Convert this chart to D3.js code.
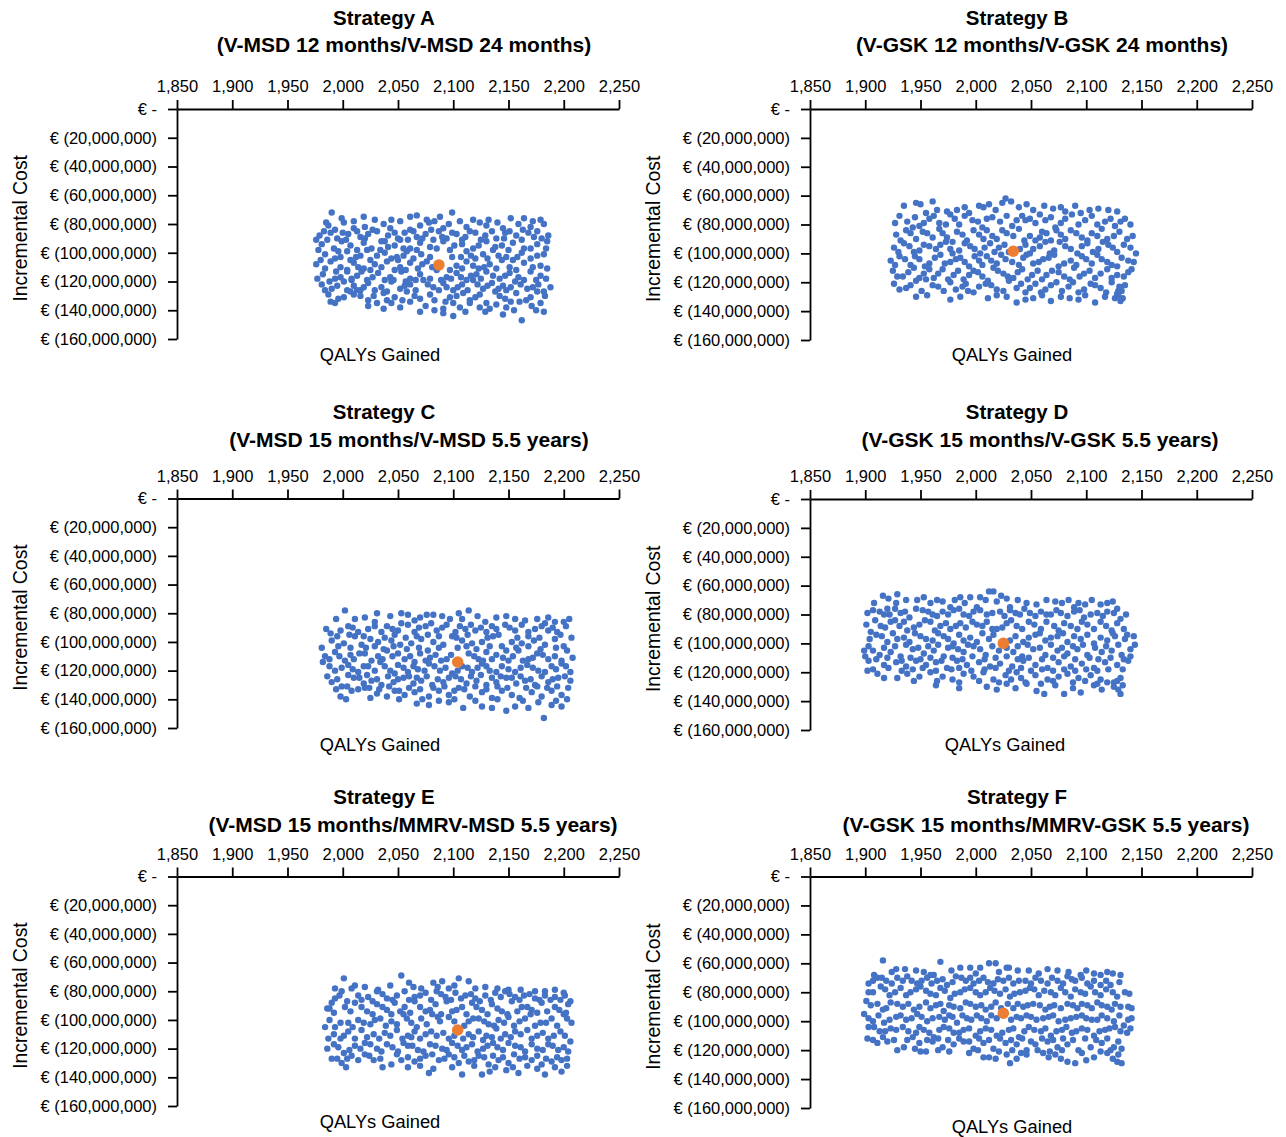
<!DOCTYPE html>
<html>
<head>
<meta charset="utf-8">
<script src="https://cdn.jsdelivr.net/npm/d3@7"></script>
<style>
  body { margin: 0; background: #fff; }
  svg text { font-family: "Liberation Sans", Arial, sans-serif; fill: #000; }
</style>
</head>
<body>
<svg id="chart" width="1286" height="1137"></svg>
<script>
// TICKS
const xTicks = [1850, 1900, 1950, 2000, 2050, 2100, 2150, 2200, 2250]
const yTicks = [0, -20, -40, -60, -80, -100, -120, -140, -160] // € millions

const titles = ["Strategy A", "Strategy B", "Strategy C", "Strategy D", "Strategy E", "Strategy F"]
const subtitles = [
  "(V-MSD 12 months/V-MSD 24 months)",
  "(V-GSK 12 months/V-GSK 24 months)",
  "(V-MSD 15 months/V-MSD 5.5 years)",
  "(V-GSK 15 months/V-GSK 5.5 years)",
  "(V-MSD 15 months/MMRV-MSD 5.5 years)",
  "(V-GSK 15 months/MMRV-GSK 5.5 years)",
]

// base case (orange) [QALYs, cost € millions]
const baseA = [2087, -108.5]
const baseB = [2034, -98.5]
const baseC = [2104, -114]
const baseD = [2025, -100]
const baseE = [2104, -107]
const baseF = [2025, -94.5]

// PSA simulations [QALYs gained, incremental cost € millions]
const pointsA = [
[1990,-72],[2019,-75],[1999,-76],[2061,-75],[2067,-74],[2076,-77],[2088,-75],[2099,-72],[2132,-77],[2044,-77],[2179,-77],[2164,-76],
[1987,-81],[2001,-79],[2020,-82],[2037,-80],[2043,-83],[2052,-78],[2070,-81],[2078,-79],[2091,-83],[2096,-80],[2112,-82],[2124,-79],[2130,-81],[2145,-83],[2159,-80],[2170,-82],[2182,-80],[1993,-84],[2010,-83],[2061,-84],[2106,-78],
[1979,-88],[1989,-86],[1995,-90],[2005,-87],[2016,-89],[2031,-85],[2041,-88],[2050,-90],[2056,-86],[2067,-89],[2075,-87],[2087,-85],[2094,-90],[2103,-87],[2111,-89],[2120,-86],[2129,-88],[2139,-90],[2151,-85],[2157,-88],[2168,-86],[2180,-90],[1976,-91],[2023,-87],[2082,-91],
[1981,-94],[1992,-97],[1999,-92],[2007,-95],[2019,-93],[2026,-97],[2035,-92],[2047,-95],[2061,-97],[2070,-93],[2079,-96],[2091,-92],[2097,-98],[2108,-94],[2118,-97],[2130,-92],[2144,-95],[2154,-93],[2164,-97],[2176,-94],[2185,-92],[2013,-98],[2052,-91],
[1984,-101],[1993,-104],[2004,-99],[2016,-102],[2025,-105],[2038,-100],[2049,-103],[2058,-99],[2064,-104],[2071,-101],[2099,-103],[2112,-99],[2120,-104],[2127,-101],[2136,-98],[2148,-103],[2162,-100],[2170,-104],[2182,-101],[2007,-105],[2034,-98],[2154,-105],
[1976,-108],[1989,-106],[1998,-110],[2010,-107],[2019,-111],[2029,-108],[2040,-106],[2052,-110],[2061,-107],[2068,-111],[2076,-106],[2103,-109],[2112,-106],[2123,-111],[2133,-108],[2144,-105],[2151,-110],[2164,-107],[2179,-109],[2004,-112],[2097,-112],[2050,-105],
[1982,-115],[1993,-118],[2004,-113],[2013,-116],[2022,-119],[2032,-114],[2043,-117],[2053,-113],[2061,-118],[2070,-115],[2085,-112],[2094,-117],[2103,-114],[2112,-119],[2121,-115],[2130,-113],[2142,-118],[2151,-114],[2159,-117],[2170,-113],[2179,-116],[2017,-113],[2046,-119],
[1981,-122],[1990,-125],[2001,-120],[2010,-123],[2016,-126],[2023,-121],[2035,-124],[2044,-120],[2052,-125],[2061,-122],[2073,-119],[2082,-124],[2091,-121],[2100,-126],[2108,-122],[2118,-119],[2127,-125],[2135,-121],[2145,-123],[2156,-120],[2167,-125],[2177,-122],[2188,-124],[2008,-119],[2148,-126],
[1987,-129],[1996,-132],[2007,-127],[2016,-130],[2023,-133],[2037,-128],[2047,-131],[2058,-127],[2070,-132],[2079,-129],[2087,-126],[2097,-131],[2109,-128],[2115,-133],[2124,-129],[2138,-127],[2147,-132],[2157,-128],[2170,-131],[2176,-127],[2040,-133],[2013,-126],
[1989,-134],[2023,-137],[2031,-135],[2052,-138],[2061,-134],[2075,-137],[2091,-139],[2100,-135],[2106,-138],[2115,-135],[2133,-139],[2139,-136],[2148,-138],[2160,-134],[2171,-137],[2179,-135],
[2091,-142],[2100,-144],[2129,-141],[2145,-143],[2182,-141],[2070,-141],[2162,-147],
[2010,-78],[2029,-77],[2083,-78],[2118,-77],[2140,-79],[2152,-76],[2172,-78],[1985,-79],
[1983,-85],[2000,-86],[2013,-85],[2027,-84],[2047,-86],[2064,-85],[2080,-84],[2099,-86],[2115,-85],[2135,-85],[2147,-86],[2163,-84],[2176,-85],
[1986,-91],[2003,-91],[2020,-90],[2038,-92],[2059,-91],[2072,-90],[2090,-89],[2108,-91],[2125,-91],[2146,-90],[2162,-91],[2173,-89],[2186,-88],
[1978,-98],[1996,-99],[2022,-98],[2041,-96],[2055,-97],[2067,-98],[2085,-97],[2101,-95],[2123,-95],[2138,-96],[2150,-98],[2170,-97],[2184,-97],
[1980,-105],[1998,-103],[2012,-103],[2031,-102],[2044,-104],[2055,-102],[2079,-103],[2107,-103],[2116,-102],[2131,-104],[2141,-102],[2158,-103],[2176,-102],
[1984,-111],[1994,-113],[2014,-110],[2025,-112],[2035,-110],[2047,-112],[2057,-112],[2072,-108],[2081,-110],[2108,-111],[2118,-109],[2128,-110],[2139,-111],[2157,-112],[2172,-110],[2185,-111],
[1977,-118],[1988,-120],[1998,-117],[2008,-118],[2027,-117],[2038,-119],[2057,-120],[2066,-119],[2079,-118],[2089,-119],[2098,-118],[2107,-117],[2116,-116],[2125,-118],[2136,-116],[2147,-116],[2164,-119],[2175,-119],[2184,-118],
[1984,-126],[1995,-123],[2004,-126],[2019,-124],[2029,-126],[2040,-127],[2056,-123],[2066,-126],[2077,-122],[2094,-124],[2104,-124],[2113,-126],[2122,-122],[2131,-123],[2141,-125],[2152,-124],[2161,-122],[2172,-124],[2182,-127],
[1993,-135],[2001,-131],[2010,-129],[2028,-130],[2044,-135],[2054,-133],[2065,-130],[2083,-133],[2093,-134],[2103,-130],[2120,-131],[2130,-135],[2142,-130],[2152,-134],[2166,-133],[2183,-130],
[2037,-139],[2083,-140],[2111,-141],[2124,-138],[2155,-140],[2175,-140]
]

const pointsB = [
[1935,-67],[1946,-65],[1965,-70],[1974,-71],[1983,-70],[2003,-67],[2007,-68],[2024,-65],[2027,-62],[2039,-68],[2052,-70],[2077,-68],[2081,-71],[2095,-72],[2111,-69],[2120,-70],[2018,-70],[1994,-72],[1955,-72],
[1931,-74],[1938,-78],[1949,-81],[1958,-76],[1967,-79],[1977,-73],[1985,-80],[1997,-77],[2006,-82],[2015,-75],[2022,-78],[2033,-81],[2042,-74],[2054,-79],[2063,-77],[2072,-82],[2081,-76],[2093,-80],[2105,-74],[2117,-78],[2126,-81],[2135,-76],[1943,-82],[1973,-80],[2045,-77],
[1928,-87],[1937,-84],[1946,-90],[1956,-86],[1967,-83],[1974,-89],[1983,-85],[1992,-91],[2003,-87],[2010,-84],[2019,-90],[2028,-86],[2039,-83],[2049,-88],[2060,-85],[2068,-91],[2077,-87],[2086,-84],[2096,-89],[2105,-86],[2114,-83],[2125,-88],[2137,-90],[1952,-85],[2054,-91],
[1926,-96],[1935,-93],[1944,-99],[1953,-94],[1964,-97],[1973,-92],[1985,-98],[1995,-95],[2004,-100],[2013,-93],[2021,-96],[2030,-99],[2045,-94],[2052,-97],[2063,-92],[2071,-98],[2081,-95],[2092,-100],[2101,-93],[2111,-97],[2120,-94],[2128,-99],[2140,-96],[1979,-100],
[1923,-105],[1931,-102],[1941,-108],[1949,-104],[1958,-107],[1968,-101],[1977,-106],[1986,-103],[1994,-109],[2003,-105],[2010,-102],[2019,-107],[2027,-104],[2039,-108],[2046,-101],[2057,-106],[2066,-103],[2075,-109],[2086,-105],[2096,-102],[2105,-107],[2114,-104],[2123,-108],[2132,-103],[2143,-106],
[1925,-112],[1934,-116],[1944,-110],[1953,-114],[1962,-117],[1970,-111],[1980,-115],[1989,-118],[1998,-112],[2006,-116],[2016,-110],[2025,-114],[2034,-117],[2042,-111],[2051,-115],[2060,-118],[2069,-112],[2080,-116],[2089,-110],[2098,-114],[2108,-117],[2119,-111],[2128,-115],[2138,-113],[1955,-118],
[1926,-121],[1937,-124],[1946,-119],[1961,-122],[1971,-126],[1977,-120],[1988,-123],[1998,-127],[2009,-121],[2019,-125],[2030,-119],[2037,-124],[2045,-127],[2054,-121],[2063,-125],[2073,-120],[2084,-123],[2093,-127],[2104,-121],[2113,-124],[2123,-120],[2129,-126],[1991,-121],
[1946,-130],[1977,-132],[2019,-129],[2037,-134],[2052,-131],[2068,-133],[2077,-130],[2093,-132],[2099,-129],[2108,-134],[2126,-131],[2131,-133],
[2130,-123],[2132,-126],[2129,-129],[2133,-131],[2131,-125],
[1950,-66],[1961,-64],[1990,-68],[2012,-66],[2032,-64],[2046,-66],[2062,-67],[2070,-69],[2090,-67],[2103,-70],[2128,-71],
[1927,-79],[1945,-75],[1953,-79],[1962,-74],[1981,-76],[1990,-74],[2002,-78],[2010,-76],[2028,-74],[2037,-77],[2049,-76],[2058,-73],[2068,-75],[2077,-79],[2087,-73],[2099,-77],[2110,-80],[2122,-76],[2131,-78],[2140,-80],
[1932,-91],[1941,-86],[1961,-89],[1970,-86],[1979,-92],[1988,-87],[1998,-84],[2007,-90],[2015,-88],[2024,-84],[2034,-88],[2044,-91],[2058,-89],[2064,-86],[2073,-84],[2081,-90],[2091,-86],[2101,-91],[2110,-88],[2119,-90],[2130,-85],[2142,-88],
[1930,-99],[1940,-95],[1949,-98],[1958,-95],[1968,-94],[1977,-97],[1990,-93],[1999,-97],[2008,-96],[2017,-99],[2026,-94],[2040,-97],[2049,-100],[2058,-95],[2067,-100],[2076,-92],[2086,-97],[2096,-95],[2106,-99],[2115,-92],[2124,-96],[2134,-94],[2145,-100],
[1927,-108],[1936,-104],[1945,-102],[1954,-109],[1963,-103],[1972,-107],[1982,-104],[1990,-106],[1999,-102],[2006,-108],[2014,-105],[2023,-101],[2033,-106],[2043,-103],[2052,-107],[2061,-104],[2071,-101],[2080,-107],[2091,-108],[2100,-104],[2110,-101],[2119,-106],[2128,-109],[2138,-105],
[1929,-116],[1939,-113],[1949,-117],[1958,-111],[1966,-114],[1975,-118],[1984,-112],[1994,-115],[2002,-113],[2011,-119],[2020,-112],[2029,-116],[2038,-113],[2047,-118],[2056,-112],[2064,-115],[2075,-113],[2085,-118],[2094,-116],[2103,-112],[2113,-114],[2123,-117],[2134,-116],[2141,-111],
[1931,-125],[1941,-122],[1951,-126],[1966,-123],[1982,-125],[1993,-126],[2003,-123],[2014,-122],[2025,-126],[2041,-121],[2049,-124],[2059,-127],[2068,-122],[2078,-126],[2088,-120],[2098,-125],[2108,-122],[2118,-127],[2135,-122],
[1956,-129],[1986,-130],[2011,-131],[2028,-130],[2045,-132],[2060,-129],[2085,-131],[2117,-130],[2128,-128]
]

const pointsC = [
[2002,-78],[2031,-80],[2053,-80],[2076,-81],[2082,-81],[2090,-82],[2105,-80],[2114,-78],[2108,-84],[2129,-86],[2148,-82],[2156,-84],[2183,-87],[2192,-86],[2200,-86],[2011,-84],[2029,-86],[2065,-85],
[1989,-94],[1998,-92],[2005,-89],[2014,-93],[2023,-91],[2035,-93],[2040,-89],[2050,-92],[2059,-88],[2065,-93],[2075,-89],[2085,-92],[2094,-88],[2102,-93],[2111,-91],[2120,-92],[2130,-93],[2139,-91],[2147,-88],[2156,-92],[2168,-93],[2174,-91],[2186,-92],[2194,-93],[2053,-87],
[1990,-99],[2001,-101],[2011,-96],[2025,-98],[2032,-100],[2044,-99],[2052,-102],[2062,-101],[2071,-98],[2082,-100],[2091,-102],[2099,-96],[2108,-99],[2117,-101],[2126,-100],[2136,-96],[2144,-103],[2153,-100],[2162,-101],[2173,-99],[2183,-102],[2192,-98],[2200,-103],[2017,-102],
[1984,-110],[1993,-107],[2002,-113],[2010,-112],[2020,-108],[2032,-110],[2040,-106],[2050,-108],[2056,-112],[2065,-114],[2075,-113],[2084,-109],[2094,-112],[2114,-108],[2123,-112],[2130,-107],[2139,-109],[2150,-113],[2159,-106],[2168,-112],[2176,-108],[2186,-112],[2198,-113],[2203,-106],
[1982,-114],[1993,-120],[2005,-116],[2014,-121],[2023,-117],[2034,-114],[2043,-120],[2050,-116],[2059,-121],[2068,-119],[2078,-115],[2088,-120],[2099,-122],[2108,-117],[2117,-121],[2126,-115],[2133,-120],[2144,-117],[2156,-121],[2167,-116],[2177,-120],[2189,-117],[2198,-115],[2206,-121],
[1990,-128],[1999,-131],[2010,-125],[2019,-129],[2026,-127],[2035,-130],[2046,-128],[2055,-125],[2064,-129],[2071,-127],[2081,-130],[2091,-128],[2102,-124],[2112,-129],[2121,-127],[2130,-130],[2139,-128],[2148,-125],[2157,-129],[2165,-127],[2174,-130],[2186,-128],[2195,-125],[2206,-127],
[1998,-138],[2008,-134],[2020,-132],[2031,-136],[2040,-138],[2047,-134],[2056,-137],[2065,-135],[2078,-138],[2087,-134],[2096,-137],[2105,-132],[2115,-138],[2126,-135],[2135,-139],[2144,-134],[2153,-137],[2160,-139],[2171,-135],[2180,-138],[2189,-134],[2198,-137],
[2067,-143],[2078,-144],[2096,-142],[2109,-146],[2126,-145],[2135,-146],[2148,-148],[2156,-145],[2168,-146],[2189,-144],[2198,-145],[2182,-153],
[1994,-84],[2020,-83],[2043,-82],[2059,-81],[2070,-83],[2097,-84],[2122,-82],[2139,-83],[2165,-85],[2176,-84],[2186,-83],[2205,-84],
[1985,-91],[2009,-90],[2029,-89],[2045,-91],[2069,-90],[2080,-87],[2090,-90],[2106,-89],[2116,-88],[2125,-90],[2135,-89],[2151,-90],[2162,-88],[2180,-89],[2190,-90],[2202,-89],
[1995,-96],[2006,-95],[2019,-96],[2038,-97],[2047,-95],[2057,-97],[2067,-96],[2077,-95],[2087,-96],[2103,-97],[2113,-95],[2131,-97],[2141,-95],[2158,-97],[2168,-96],[2178,-97],[2197,-95],[2207,-97],
[1981,-104],[1996,-103],[2007,-104],[2021,-104],[2029,-103],[2037,-105],[2046,-103],[2058,-105],[2069,-104],[2077,-106],[2087,-104],[2104,-104],[2112,-103],[2121,-105],[2133,-103],[2148,-106],[2157,-104],[2168,-103],[2179,-105],[2193,-104],
[1988,-112],[1997,-110],[2007,-109],[2015,-108],[2026,-113],[2036,-112],[2045,-110],[2061,-110],[2070,-108],[2079,-111],[2089,-113],[2098,-109],[2119,-110],[2127,-113],[2135,-112],[2145,-111],[2154,-110],[2163,-113],[2172,-111],[2181,-109],[2192,-110],[2208,-111],
[1988,-117],[1999,-118],[2009,-119],[2019,-117],[2029,-120],[2038,-117],[2047,-122],[2055,-118],[2064,-117],[2074,-120],[2083,-117],[2093,-118],[2104,-120],[2113,-118],[2122,-118],[2130,-117],[2139,-121],[2150,-119],[2161,-118],[2172,-118],[2183,-121],[2193,-119],[2202,-117],
[1986,-124],[1995,-126],[2005,-123],[2015,-125],[2022,-123],[2031,-126],[2041,-124],[2050,-126],[2060,-124],[2067,-125],[2076,-124],[2086,-126],[2096,-125],[2107,-126],[2116,-124],[2125,-123],[2135,-125],[2143,-124],[2153,-125],[2161,-124],[2170,-126],[2180,-124],[2190,-126],[2201,-124],
[1994,-133],[2004,-131],[2014,-133],[2024,-132],[2033,-133],[2042,-131],[2051,-134],[2060,-132],[2070,-133],[2082,-132],[2092,-131],[2101,-134],[2110,-133],[2120,-131],[2130,-133],[2140,-131],[2149,-132],[2166,-132],[2176,-131],[2185,-132],[2194,-131],[2204,-132],
[2003,-140],[2025,-139],[2051,-140],[2072,-140],[2087,-141],[2101,-140],[2120,-141],[2140,-140],[2163,-141],[2177,-142],[2193,-141],[2203,-140]
]

const pointsD = [
[1916,-67],[1929,-66],[1928,-72],[1947,-70],[1959,-72],[1965,-70],[1986,-68],[1995,-68],[2009,-70],[2012,-64],[2016,-64],[2019,-71],[2028,-69],[2031,-75],[2046,-72],[2072,-71],[2078,-72],[2089,-75],[2099,-73],[2119,-72],[2128,-76],[1908,-72],[1977,-75],[2001,-75],
[1902,-79],[1913,-78],[1922,-80],[1932,-79],[1940,-82],[1952,-77],[1961,-80],[1970,-78],[1980,-77],[1989,-80],[1998,-78],[2010,-80],[2022,-78],[2031,-77],[2040,-80],[2049,-79],[2059,-78],[2068,-80],[2077,-79],[2089,-78],[2098,-82],[2110,-79],[2119,-78],[2131,-83],[1920,-76],
[1905,-92],[1914,-88],[1923,-85],[1931,-88],[1938,-91],[1949,-87],[1959,-85],[1968,-88],[1977,-90],[1986,-86],[1997,-85],[2006,-88],[2019,-90],[2028,-86],[2037,-88],[2048,-85],[2059,-90],[2071,-88],[2080,-86],[2092,-90],[2101,-87],[2113,-85],[2123,-91],[2137,-94],[2134,-90],
[1899,-105],[1910,-94],[1920,-99],[1929,-97],[1940,-99],[1950,-95],[1961,-98],[1971,-95],[1980,-100],[1989,-98],[2001,-99],[2012,-97],[2031,-98],[2043,-99],[2054,-94],[2063,-98],[2074,-95],[2083,-99],[2095,-97],[2107,-100],[2119,-98],[2126,-95],
[1907,-105],[1913,-108],[1923,-106],[1932,-109],[1943,-104],[1953,-107],[1962,-105],[1971,-109],[1979,-102],[1989,-106],[1998,-102],[2009,-108],[2021,-105],[2034,-106],[2042,-109],[2052,-104],[2063,-108],[2074,-105],[2083,-107],[2092,-104],[2101,-108],[2114,-106],[2123,-105],[2132,-108],[2140,-104],[2140,-109],
[1903,-112],[1917,-115],[1928,-113],[1937,-116],[1946,-112],[1955,-115],[1964,-113],[1974,-117],[1983,-112],[1992,-115],[2003,-113],[2013,-116],[2022,-114],[2033,-116],[2043,-112],[2054,-115],[2065,-117],[2075,-113],[2086,-116],[2096,-114],[2107,-117],[2117,-113],[2128,-115],[2138,-112],
[1902,-119],[1911,-121],[1929,-124],[1938,-121],[1949,-123],[1959,-120],[1970,-123],[1979,-125],[1989,-121],[1998,-123],[2007,-120],[2016,-125],[2027,-122],[2037,-120],[2045,-127],[2054,-122],[2065,-125],[2075,-123],[2083,-121],[2093,-124],[2104,-122],[2113,-125],[2125,-127],[2131,-124],
[1964,-129],[2010,-130],[2028,-128],[2046,-128],[2062,-135],[2072,-129],[2080,-135],[2095,-134],[2107,-129],[2125,-130],[2129,-132],[2131,-135],
[1921,-69],[1937,-70],[1953,-68],[1970,-71],[1981,-70],[1990,-72],[2004,-68],[2023,-67],[2038,-70],[2055,-73],[2064,-70],[2084,-70],[2093,-72],[2105,-70],[2113,-73],[2124,-71],
[1907,-77],[1917,-80],[1927,-76],[1936,-78],[1946,-76],[1957,-78],[1965,-81],[1975,-80],[1985,-76],[1994,-81],[2004,-77],[2015,-79],[2026,-81],[2036,-79],[2044,-76],[2054,-81],[2064,-80],[2073,-77],[2083,-81],[2094,-77],[2104,-80],[2115,-81],[2125,-79],[2136,-80],
[1901,-87],[1909,-84],[1918,-89],[1927,-84],[1935,-85],[1944,-89],[1954,-84],[1963,-91],[1973,-86],[1982,-88],[1991,-89],[2001,-87],[2010,-85],[2015,-90],[2024,-89],[2032,-84],[2042,-90],[2053,-87],[2064,-85],[2075,-91],[2086,-88],[2096,-85],[2107,-90],[2118,-88],[2128,-86],
[1904,-97],[1915,-95],[1925,-93],[1935,-96],[1945,-93],[1955,-97],[1966,-93],[1975,-97],[1985,-94],[1995,-96],[2006,-93],[2016,-94],[2036,-95],[2048,-96],[2058,-93],[2068,-96],[2079,-93],[2089,-95],[2101,-94],[2113,-96],[2124,-93],[2135,-97],[2143,-95],
[1903,-102],[1917,-103],[1927,-102],[1937,-101],[1948,-103],[1957,-102],[1966,-101],[1975,-103],[1984,-104],[1993,-101],[2004,-104],[2015,-102],[2028,-103],[2038,-102],[2047,-101],[2058,-103],[2068,-101],[2078,-103],[2088,-102],[2097,-101],[2108,-103],[2118,-102],[2129,-101],[2144,-101],
[1900,-109],[1910,-111],[1920,-110],[1933,-112],[1941,-110],[1950,-111],[1959,-110],[1969,-112],[1979,-110],[1988,-111],[1997,-109],[2008,-111],[2018,-110],[2028,-109],[2038,-111],[2048,-110],[2060,-111],[2070,-110],[2080,-109],[2090,-111],[2103,-110],[2111,-111],[2122,-110],[2134,-111],
[1907,-118],[1921,-117],[1933,-119],[1943,-118],[1952,-117],[1964,-119],[1978,-118],[1985,-117],[1996,-119],[2008,-118],[2018,-117],[2030,-119],[2041,-117],[2050,-119],[2060,-118],[2070,-119],[2080,-118],[2090,-119],[2100,-118],[2110,-119],[2120,-118],[2133,-118],
[1917,-124],[1944,-126],[1965,-126],[1985,-127],[2003,-126],[2021,-127],[2032,-125],[2041,-124],[2059,-128],[2070,-126],[2088,-127],[2099,-126],[2110,-128],[2119,-127],[2128,-126],[2133,-129],
[1985,-131],[2019,-132],[2036,-131],[2055,-133],[2088,-131],[2114,-132]
]

const pointsE = [
[2001,-71],[2053,-69],[2090,-73],[2105,-71],[2114,-73],[2082,-74],[2064,-77],[2032,-79],[2129,-77],[2150,-79],[2183,-80],[2200,-81],[2011,-76],[2071,-78],[2096,-78],
[1986,-92],[1999,-80],[2008,-78],[2014,-83],[2023,-84],[2031,-80],[2040,-85],[2049,-83],[2056,-80],[2065,-84],[2075,-81],[2085,-80],[2093,-84],[2102,-81],[2111,-83],[2120,-85],[2129,-83],[2138,-81],[2147,-80],[2156,-84],[2164,-83],[2174,-85],[2183,-83],[2192,-84],[2201,-83],[1993,-85],[2004,-87],
[1988,-92],[2002,-91],[2011,-88],[2022,-94],[2031,-89],[2040,-93],[2047,-88],[2056,-91],[2065,-87],[2075,-94],[2084,-89],[2094,-87],[2108,-91],[2117,-88],[2126,-93],[2135,-89],[2144,-94],[2153,-87],[2162,-91],[2171,-93],[2180,-88],[2192,-91],[2204,-89],[2099,-94],
[1984,-105],[1993,-105],[2005,-102],[2014,-100],[2025,-103],[2034,-99],[2044,-101],[2055,-96],[2062,-102],[2071,-99],[2081,-96],[2088,-101],[2096,-98],[2114,-101],[2123,-99],[2132,-103],[2141,-100],[2150,-98],[2160,-101],[2170,-96],[2179,-102],[2189,-99],[2200,-96],[2207,-102],
[1987,-113],[1998,-113],[2005,-108],[2017,-107],[2028,-110],[2038,-109],[2049,-107],[2059,-111],[2065,-108],[2075,-110],[2085,-111],[2096,-113],[2114,-110],[2123,-108],[2130,-111],[2139,-106],[2147,-110],[2156,-108],[2167,-107],[2176,-111],[2186,-113],[2197,-108],[2206,-115],
[1992,-117],[2001,-123],[2011,-118],[2020,-116],[2031,-120],[2040,-117],[2050,-122],[2059,-118],[2068,-121],[2079,-117],[2090,-120],[2099,-116],[2108,-121],[2117,-117],[2127,-120],[2136,-116],[2145,-121],[2156,-118],[2165,-122],[2176,-120],[2186,-117],[2195,-121],[2204,-122],
[1990,-127],[1999,-130],[2008,-125],[2020,-124],[2028,-128],[2044,-131],[2053,-128],[2065,-129],[2075,-125],[2087,-128],[2096,-124],[2105,-130],[2114,-129],[2123,-125],[2132,-131],[2141,-128],[2150,-130],[2160,-127],[2171,-128],[2180,-131],[2189,-129],[2198,-128],
[2078,-137],[2108,-138],[2126,-138],[2133,-136],[2148,-135],[2159,-137],[2183,-138],[2198,-136],
[2020,-77],[2043,-76],[2060,-74],[2086,-77],[2101,-76],[2120,-78],[2140,-78],[2161,-79],[2174,-80],[2192,-79],[1993,-78],
[1990,-88],[1997,-83],[2017,-86],[2027,-87],[2036,-82],[2045,-86],[2060,-86],[2070,-83],[2080,-86],[2089,-82],[2098,-86],[2107,-85],[2116,-82],[2124,-87],[2134,-86],[2143,-84],[2151,-82],[2160,-86],[2169,-82],[2178,-86],[2188,-86],[2197,-86],[2206,-87],
[1992,-95],[2007,-94],[2017,-91],[2027,-96],[2036,-91],[2044,-96],[2052,-94],[2061,-95],[2070,-91],[2079,-93],[2089,-96],[2103,-93],[2112,-96],[2121,-91],[2131,-96],[2140,-92],[2149,-96],[2158,-94],[2167,-91],[2176,-95],[2185,-94],[2196,-93],[2202,-95],
[1988,-100],[1998,-102],[2009,-105],[2019,-102],[2029,-100],[2039,-104],[2049,-103],[2058,-99],[2067,-105],[2076,-103],[2086,-98],[2101,-101],[2110,-104],[2118,-99],[2128,-101],[2137,-104],[2146,-102],[2155,-104],[2165,-99],[2174,-104],[2184,-102],[2194,-104],[2203,-99],
[1992,-110],[2001,-111],[2011,-113],[2022,-112],[2033,-113],[2043,-111],[2054,-113],[2062,-112],[2070,-113],[2080,-108],[2091,-109],[2101,-111],[2109,-113],[2118,-112],[2127,-114],[2135,-112],[2143,-113],[2152,-112],[2161,-110],[2171,-113],[2181,-109],[2191,-111],[2201,-111],
[1986,-120],[1996,-119],[2006,-121],[2016,-120],[2025,-117],[2035,-122],[2045,-119],[2055,-116],[2063,-118],[2073,-122],[2084,-118],[2094,-121],[2104,-118],[2112,-119],[2122,-122],[2131,-118],[2140,-119],[2150,-116],[2161,-119],[2171,-117],[2181,-121],[2190,-118],[2200,-119],
[1995,-127],[2004,-127],[2014,-128],[2024,-125],[2034,-127],[2049,-124],[2059,-126],[2070,-127],[2081,-124],[2092,-127],[2101,-126],[2110,-125],[2119,-128],[2128,-126],[2136,-125],[2145,-126],[2155,-124],[2165,-126],[2176,-125],[2184,-127],[2194,-126],[2203,-127],
[2003,-133],[2036,-133],[2059,-133],[2070,-132],[2082,-134],[2099,-133],[2119,-132],[2138,-133],[2154,-133],[2167,-132],[2176,-134],[2192,-133],[2203,-132]
]

const pointsF = [
[1916,-58],[1968,-59],[1928,-64],[2012,-60],[2018,-60],[2028,-63],[2030,-63],[1986,-63],[1995,-63],[2004,-63],[2048,-65],[2074,-65],[2107,-67],[2119,-66],[2131,-68],[1962,-68],[1946,-65],[1959,-68],[1908,-68],[2095,-68],
[1903,-74],[1911,-70],[1919,-72],[1929,-70],[1938,-69],[1947,-74],[1956,-70],[1965,-72],[1974,-75],[1982,-69],[1991,-72],[1998,-74],[2007,-70],[2016,-74],[2025,-72],[2034,-74],[2045,-72],[2054,-70],[2065,-74],[2074,-72],[2083,-69],[2090,-72],[2101,-74],[2113,-75],[2122,-75],
[1907,-80],[1914,-76],[1922,-82],[1932,-77],[1941,-80],[1950,-76],[1959,-81],[1968,-77],[1977,-84],[1986,-80],[1995,-77],[2004,-82],[2013,-77],[2022,-81],[2031,-83],[2040,-80],[2049,-77],[2057,-82],[2068,-80],[2077,-77],[2086,-83],[2095,-80],[2104,-76],[2113,-82],[2135,-80],[2128,-83],
[1905,-89],[1916,-92],[1923,-87],[1934,-90],[1944,-92],[1955,-87],[1964,-89],[1971,-93],[1980,-90],[1991,-87],[2000,-90],[2009,-92],[2018,-87],[2034,-91],[2043,-90],[2052,-88],[2063,-92],[2071,-89],[2083,-88],[2092,-91],[2101,-89],[2110,-87],[2119,-90],[2126,-88],[2138,-90],
[1899,-95],[1907,-100],[1917,-101],[1928,-97],[1937,-99],[1947,-95],[1956,-100],[1967,-97],[1976,-96],[1983,-101],[1992,-98],[2001,-96],[2010,-100],[2019,-98],[2037,-97],[2046,-96],[2055,-99],[2066,-97],[2075,-100],[2086,-98],[2096,-96],[2105,-99],[2114,-96],[2125,-100],[2134,-103],[2141,-98],
[1903,-104],[1913,-107],[1923,-105],[1934,-104],[1946,-108],[1953,-106],[1962,-111],[1971,-104],[1980,-108],[1989,-106],[2000,-110],[2009,-105],[2019,-110],[2030,-106],[2039,-111],[2048,-104],[2059,-107],[2068,-110],[2078,-106],[2087,-108],[2096,-105],[2107,-110],[2117,-106],[2126,-104],[2137,-108],
[1902,-112],[1911,-115],[1920,-114],[1938,-113],[1949,-115],[1961,-114],[1970,-118],[1980,-116],[1989,-114],[1998,-119],[2007,-115],[2016,-119],[2027,-115],[2037,-116],[2046,-120],[2054,-116],[2065,-114],[2074,-118],[2083,-116],[2093,-120],[2104,-118],[2114,-115],[2125,-118],[2132,-119],
[1929,-120],[1950,-121],[1955,-121],[2007,-125],[2012,-125],[2028,-123],[2031,-129],[2046,-123],[2061,-122],[2072,-123],[2083,-128],[2090,-129],[2107,-125],[2119,-122],[2128,-128],[2132,-129],
[1924,-66],[1936,-64],[1953,-66],[1978,-65],[2000,-67],[2021,-66],[2038,-65],[2057,-67],[2065,-64],[2084,-66],[2100,-65],[2113,-68],[2124,-67],
[1907,-72],[1915,-70],[1924,-74],[1934,-72],[1942,-72],[1951,-72],[1960,-74],[1970,-71],[1979,-73],[1987,-70],[1995,-70],[2003,-72],[2011,-73],[2020,-71],[2030,-70],[2039,-72],[2050,-74],[2059,-72],[2069,-70],[2079,-74],[2087,-71],[2096,-70],[2107,-72],[2118,-72],[2130,-73],
[1903,-80],[1918,-78],[1927,-80],[1937,-82],[1946,-78],[1955,-79],[1964,-82],[1972,-79],[1981,-81],[1990,-78],[2000,-80],[2009,-80],[2017,-79],[2027,-78],[2035,-81],[2045,-79],[2053,-78],[2062,-79],[2072,-82],[2081,-80],[2090,-78],[2099,-81],[2108,-80],[2118,-78],[2124,-80],[2139,-81],
[1901,-86],[1911,-88],[1919,-91],[1929,-88],[1939,-88],[1949,-90],[1959,-91],[1968,-88],[1976,-89],[1986,-91],[1995,-88],[2005,-89],[2014,-90],[2023,-91],[2029,-88],[2038,-88],[2047,-89],[2058,-89],[2067,-90],[2077,-91],[2088,-89],[2096,-88],[2105,-91],[2114,-89],[2123,-92],[2131,-90],[2141,-91],
[1903,-98],[1912,-96],[1922,-99],[1932,-96],[1942,-98],[1951,-97],[1961,-98],[1972,-99],[1979,-97],[1988,-96],[1996,-99],[2005,-98],[2014,-96],[2032,-99],[2041,-98],[2050,-97],[2061,-98],[2070,-96],[2081,-99],[2091,-97],[2100,-98],[2110,-99],[2119,-98],[2130,-96],[2138,-99],
[1908,-104],[1918,-107],[1928,-106],[1939,-107],[1949,-104],[1958,-108],[1967,-106],[1976,-105],[1985,-108],[1994,-105],[2004,-107],[2014,-106],[2024,-108],[2034,-105],[2044,-107],[2053,-106],[2063,-105],[2073,-107],[2082,-104],[2091,-107],[2101,-106],[2112,-107],[2121,-105],[2131,-107],[2140,-105],
[1907,-113],[1916,-111],[1926,-113],[1943,-111],[1956,-113],[1966,-112],[1975,-113],[1985,-112],[1994,-114],[2003,-112],[2012,-113],[2022,-112],[2032,-113],[2042,-112],[2050,-114],[2060,-112],[2070,-113],[2079,-112],[2088,-113],[2099,-112],[2109,-113],[2119,-112],[2129,-114],
[1935,-118],[1945,-119],[1966,-120],[1976,-121],[1994,-122],[2002,-120],[2021,-121],[2033,-120],[2041,-122],[2056,-120],[2067,-121],[2078,-120],[2096,-122],[2113,-121],[2122,-120],[2129,-123],
[2018,-126],[2037,-126],[2066,-125],[2077,-126],[2100,-127],[2124,-126]
]

// panel frames (pixel boxes of each plot)
const panels = [
  { pts: pointsA, base: baseA, left: 177, right: 619, top: 109, bottom: 339, t1: 25, t2: 52, sub: 404, qx: 380, qy: 361 },
  { pts: pointsB, base: baseB, left: 810, right: 1252, top: 109, bottom: 340, t1: 25, t2: 52, sub: 1042, qx: 1012, qy: 361 },
  { pts: pointsC, base: baseC, left: 177, right: 619, top: 498.5, bottom: 728, t1: 419, t2: 447, sub: 409, qx: 380, qy: 751 },
  { pts: pointsD, base: baseD, left: 810, right: 1252, top: 499, bottom: 730, t1: 419, t2: 447, sub: 1040, qx: 1005, qy: 751 },
  { pts: pointsE, base: baseE, left: 177, right: 619, top: 876.5, bottom: 1106, t1: 804, t2: 832, sub: 413, qx: 380, qy: 1128 },
  { pts: pointsF, base: baseF, left: 810, right: 1252, top: 876.5, bottom: 1108, t1: 804, t2: 832, sub: 1046, qx: 1012, qy: 1133 },
]

const fmtNum = d3.format(",")
const yFormat = (d) => (d === 0 ? "€ -" : "€ (" + fmtNum(Math.abs(d) * 1e6) + ")")

const svg = d3.select("#chart")

panels.forEach((p, i) => {
  const x = d3.scaleLinear().domain([1850, 2250]).range([p.left, p.right])
  const y = d3.scaleLinear().domain([-160, 0]).range([p.bottom, p.top])
  const g = svg.append("g").attr("class", "panel")

  // TITLES
  g.append("text")
    .attr("x", x(1850) + 207)
    .attr("y", p.t1)
    .attr("text-anchor", "middle")
    .style("font-weight", "bold")
    .style("font-size", "20.5px")
    .text(titles[i])
  g.append("text")
    .attr("x", p.sub)
    .attr("y", p.t2)
    .attr("text-anchor", "middle")
    .style("font-weight", "bold")
    .style("font-size", "21px")
    .text(subtitles[i])

  // AXES
  const xAxis = g
    .append("g")
    .attr("transform", `translate(0,${y(0)})`)
    .call(d3.axisTop(x).tickValues(xTicks).tickFormat(fmtNum).tickSize(9).tickSizeOuter(0).tickPadding(8))
  const yAxis = g
    .append("g")
    .attr("transform", `translate(${x(1850)},0)`)
    .call(d3.axisLeft(y).tickValues(yTicks).tickFormat(yFormat).tickSize(9).tickSizeOuter(0).tickPadding(11))

  ;[xAxis, yAxis].forEach((a) => {
    a.attr("font-family", null).attr("font-size", null)
    a.selectAll("path, line").attr("stroke", "#000").attr("stroke-width", 1.8)
    a.selectAll("text").style("font-size", "16.5px")
  })

  // AXIS LABELS
  g.append("text")
    .attr("x", p.qx)
    .attr("y", p.qy)
    .attr("text-anchor", "middle")
    .style("font-size", "18.3px")
    .text("QALYs Gained")
  g.append("text")
    .attr("transform", `translate(${x(1850) - 150},${y(-83)}) rotate(-90)`)
    .attr("text-anchor", "middle")
    .style("font-size", "19.4px")
    .text("Incremental Cost")

  // POINTS
  g.append("g")
    .selectAll("circle")
    .data(p.pts)
    .join("circle")
    .attr("cx", (d) => x(d[0]))
    .attr("cy", (d) => y(d[1]))
    .attr("r", 3.2)
    .style("fill", "#4472C4")

  g.append("circle")
    .attr("cx", x(p.base[0]))
    .attr("cy", y(p.base[1]))
    .attr("r", 5.8)
    .style("fill", "#ED7D31")
})
</script>
</body>
</html>
